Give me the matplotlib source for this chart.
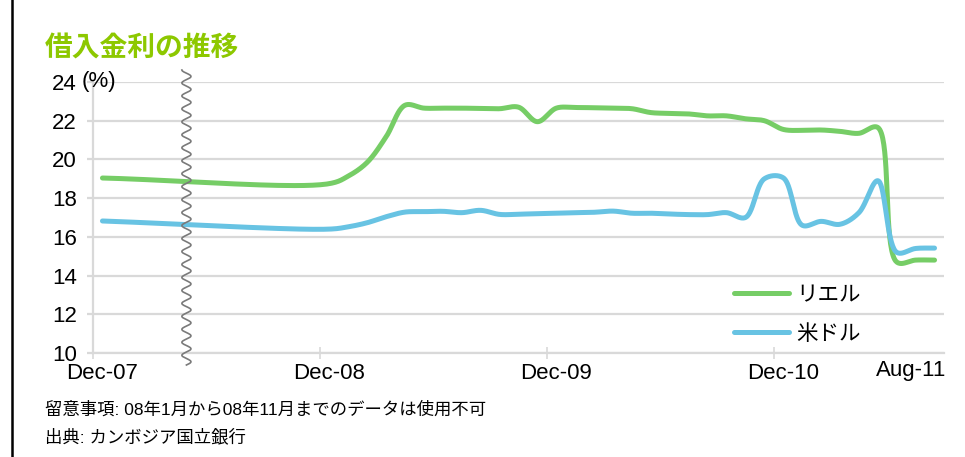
import numpy as np
import pandas as pd
import matplotlib.pyplot as plt
from matplotlib.lines import Line2D
from matplotlib.patches import Rectangle

plt.rcParams['font.family'] = ['Liberation Sans', 'Noto Sans CJK JP']

# 月次データ (08年1月～11月は欠損)
months = ['Dec-07', 'Dec-08',
          'Jan-09', 'Feb-09', 'Mar-09', 'Apr-09', 'May-09', 'Jun-09',
          'Jul-09', 'Aug-09', 'Sep-09', 'Oct-09', 'Nov-09', 'Dec-09',
          'Jan-10', 'Feb-10', 'Mar-10', 'Apr-10', 'May-10', 'Jun-10',
          'Jul-10', 'Aug-10', 'Sep-10', 'Oct-10', 'Nov-10', 'Dec-10',
          'Jan-11', 'Feb-11', 'Mar-11', 'Apr-11', 'May-11', 'Jun-11',
          'Jul-11', 'Aug-11']
riel = [19.04, 18.75,
        19.14, 19.85, 21.17, 22.80, 22.65, 22.65,
        22.65, 22.63, 22.62, 22.70, 21.95, 22.65,
        22.68, 22.67, 22.65, 22.62, 22.42, 22.38,
        22.35, 22.25, 22.25, 22.10, 22.00, 21.55,
        21.50, 21.52, 21.45, 21.35, 21.65, 14.70,
        14.80, 14.80]
usd = [16.82, 16.40,
       16.52, 16.73, 17.04, 17.28, 17.30, 17.32,
       17.25, 17.37, 17.16, 17.17, 17.20, 17.22,
       17.25, 17.27, 17.33, 17.22, 17.22, 17.18,
       17.15, 17.15, 17.25, 17.00, 19.00, 19.05,
       16.60, 16.80, 16.65, 17.25, 18.90, 15.20,
       15.40, 15.42]
series_names = ['リエル', '米ドル']
series_colors = ['#76CD66', '#68C3E3']

xtick_labels = ['Dec-07', 'Dec-08', 'Dec-09', 'Dec-10']
yticks = [10, 12, 14, 16, 18, 20, 22, 24]

dates = pd.to_datetime(months, format='%b-%y')
mi = np.array((dates.year - 2007) * 12 + dates.month - 12, dtype=float)


def catmull_rom(ax, xs, ys, n=40, alpha=0.5):
    # 画面座標で centripetal Catmull-Rom 補間
    P = ax.transData.transform(np.column_stack([xs, ys]))
    P = np.vstack([2 * P[0] - P[1], P, 2 * P[-1] - P[-2]])
    out = []
    for i in range(1, len(P) - 2):
        p0, p1, p2, p3 = P[i - 1:i + 3]
        t0 = 0.0
        t1 = t0 + np.linalg.norm(p1 - p0) ** alpha
        t2 = t1 + np.linalg.norm(p2 - p1) ** alpha
        t3 = t2 + np.linalg.norm(p3 - p2) ** alpha
        t = np.linspace(t1, t2, n)[:, None]
        a1 = (t1 - t) / (t1 - t0) * p0 + (t - t0) / (t1 - t0) * p1
        a2 = (t2 - t) / (t2 - t1) * p1 + (t - t1) / (t2 - t1) * p2
        a3 = (t3 - t) / (t3 - t2) * p2 + (t - t2) / (t3 - t2) * p3
        b1 = (t2 - t) / (t2 - t0) * a1 + (t - t0) / (t2 - t0) * a2
        b2 = (t3 - t) / (t3 - t1) * a2 + (t - t1) / (t3 - t1) * a3
        c = (t2 - t) / (t2 - t1) * b1 + (t - t1) / (t2 - t1) * b2
        out.append(c if not out else c[1:])
    return ax.transData.inverted().transform(np.vstack(out))


fig = plt.figure(figsize=(9.65, 4.57), dpi=100)
ax = fig.add_axes([93 / 965, 104 / 457, 851 / 965, 271 / 457])
ax.set_xlim(-0.5, 44.5)
ax.set_ylim(10, 24)

grid_c = '#D9D9D9'
fs = 16
ax.set_yticks(yticks)
ax.yaxis.grid(True, color=grid_c, lw=1.6)
ax.set_axisbelow(True)
for s in ['top', 'right']:
    ax.spines[s].set_visible(False)
for s in ['left', 'bottom']:
    ax.spines[s].set_color(grid_c)
    ax.spines[s].set_linewidth(1.6)
ax.tick_params(axis='y', colors=grid_c, labelcolor='black', length=4.5,
               width=1.6, pad=7, labelsize=fs)

label_pos = [mi[months.index(m)] for m in xtick_labels]
ax.set_xticks(label_pos)
ax.set_xticklabels(xtick_labels)
ax.set_xticks([p - 0.5 for p in label_pos], minor=True)
ax.tick_params(axis='x', which='major', length=0, pad=7, labelsize=fs)
ax.tick_params(axis='x', which='minor', direction='inout', length=9,
               width=1.2, colors=grid_c)
ax.text(42.75, 9.62, 'Aug-11', ha='center', va='top', fontsize=fs,
        clip_on=False)

ax.annotate('(%)', xy=(0, 24), xycoords=('axes fraction', 'data'),
            xytext=(-11, 0), textcoords='offset pixels', ha='left',
            va='center', fontsize=fs)

handles = []
for vals, name, col in zip([riel, usd], series_names, series_colors):
    pts = catmull_rom(ax, mi, vals)
    ax.plot(pts[:, 0], pts[:, 1], color=col, lw=3.6,
            solid_capstyle='round', solid_joinstyle='round', zorder=3)
    handles.append(Line2D([], [], color=col, lw=3.6, solid_capstyle='round',
                          label=name))

# データ欠損期間を示す波線
gap_x = 4.44
wy = np.linspace(9.38, 24.62, 600)
wx = gap_x + 0.24 * np.sin((wy - 9.38) / 0.67 * 2 * np.pi)
ax.plot(wx, wy, color='#7A7A7A', lw=1.2, clip_on=False, zorder=4)

ax.legend(handles=handles, loc='upper left',
          bbox_to_anchor=(734 / 965, 1 - 285 / 457),
          bbox_transform=fig.transFigure, frameon=False, fontsize=15.5,
          handlelength=2.55, handletextpad=0.35, labelspacing=0.82,
          borderpad=0, borderaxespad=0)

fig.text(45 / 965, 1 - 48 / 457, '借入金利の推移', fontsize=20,
         fontweight='bold', color='#8DC800', family=['Noto Sans CJK JP'],
         va='center', ha='left')
fig.text(45 / 965, 1 - 410 / 457,
         '留意事項: 08年1月から08年11月までのデータは使用不可',
         fontsize=12.5, va='center', ha='left')
fig.text(45 / 965, 1 - 437 / 457, '出典: カンボジア国立銀行',
         fontsize=12.5, va='center', ha='left')

fig.patches.append(Rectangle((12 / 965, -0.2), 1.2, 1.2 + 1 - 16 / 457,
                             transform=fig.transFigure, fill=False,
                             edgecolor='black', lw=1.8))

fig.savefig('out.png', dpi=100)
